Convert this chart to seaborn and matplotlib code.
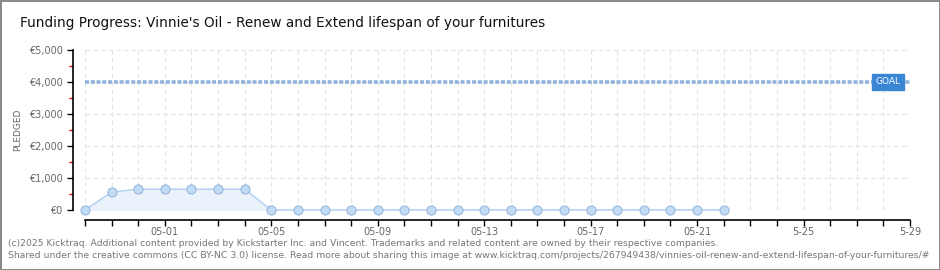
import matplotlib
matplotlib.use("Agg")
import matplotlib.pyplot as plt
import matplotlib.dates as mdates
import numpy as np
import pandas as pd
import seaborn as sns

# --- data ---
dates = pd.date_range("2017-04-28", "2017-05-22", freq="D")
pledged = [0, 560, 650, 650, 650, 650, 650] + [0] * 18
goal = 4000
tick_dates = ["2017-05-01", "2017-05-05", "2017-05-09", "2017-05-13",
              "2017-05-17", "2017-05-21", "2017-05-25", "2017-05-29"]
tick_labels = ["05-01", "05-05", "05-09", "05-13", "05-17", "05-21", "5-25", "5-29"]
y_ticks = [0, 1000, 2000, 3000, 4000, 5000]
y_labels = ["€0", "€1,000", "€2,000", "€3,000", "€4,000", "€5,000"]

df = pd.DataFrame({"date": dates, "pledged": pledged})

sns.set_style("white")
plt.rcParams["font.family"] = ["DejaVu Sans"]

fig = plt.figure(figsize=(9.4, 2.7), dpi=100, facecolor="white",
                 edgecolor="#8a8a8a", linewidth=2)
ax = fig.add_axes([85 / 940, (270 - 210) / 270, 825 / 940, 160 / 270])

x0 = pd.Timestamp("2017-04-28")
x1 = pd.Timestamp("2017-05-29")
ax.set_xlim(x0, x1)
ax.set_ylim(0, 5000)

# grid
ax.set_axisbelow(True)
for d in pd.date_range(x0, x1, freq="D"):
    ax.axvline(d, color="#e2e2e2", lw=0.8, ls=(0, (4, 3)), zorder=0)
for y in y_ticks:
    ax.axhline(y, color="#e2e2e2", lw=0.8, ls=(0, (4, 3)), zorder=0)

# goal line
ax.axhline(goal, color="#8fb3dc", lw=2.6, ls=(0, (1.1, 0.5)), zorder=2)
ax.text(pd.Timestamp("2017-05-27 17:00"), goal, "GOAL", color="white", fontsize=6.5,
        ha="left", va="center", zorder=4,
        bbox=dict(boxstyle="square,pad=0.35", fc="#3a86d4", ec="#3a86d4"))

# pledged area + line
ax.fill_between(df["date"], df["pledged"], 0, color="#eaf3fc", zorder=1)
sns.lineplot(data=df, x="date", y="pledged", ax=ax, color="#b9d5f2", lw=1.2,
             marker="o", markersize=6.5, markerfacecolor="#c3dcf6",
             markeredgecolor="#98b6da", markeredgewidth=0.8, zorder=3,
             clip_on=False)

# axes styling
for s in ["top", "right"]:
    ax.spines[s].set_visible(False)
ax.spines["left"].set_position(("outward", 9))
ax.spines["bottom"].set_position(("outward", 7))
ax.spines["left"].set_color("black")
ax.spines["bottom"].set_color("black")
ax.spines["left"].set_linewidth(1.2)
ax.spines["bottom"].set_linewidth(1.2)

ax.set_xticks(pd.to_datetime(tick_dates))
ax.set_xticklabels(tick_labels)
ax.xaxis.set_minor_locator(mdates.DayLocator())
ax.set_yticks(y_ticks)
ax.set_yticklabels(y_labels)
ax.set_yticks(np.arange(500, 5000, 1000), minor=True)

ax.tick_params(axis="x", which="both", bottom=True, direction="out", length=4, width=1,
               color="black", labelsize=7, labelcolor="#666666", pad=1)
ax.tick_params(axis="y", which="major", left=True, direction="out", length=4, width=1,
               color="black", labelsize=7, labelcolor="#666666", pad=3)
ax.tick_params(axis="y", which="minor", left=True, direction="out", length=3, width=1,
               color="red")

ax.set_xlabel("")
ax.set_ylabel("PLEDGED", fontsize=6.5, color="#666666", labelpad=5)

fig.text(20 / 940, 1 - 23 / 270, "Funding Progress: Vinnie's Oil - Renew and Extend lifespan of your furnitures",
         fontsize=9.8, color="#111111", va="center", ha="left")
fig.text(8 / 940, 1 - 243 / 270,
         "(c)2025 Kicktraq. Additional content provided by Kickstarter Inc. and Vincent. "
         "Trademarks and related content are owned by their respective companies.",
         fontsize=6.7, color="#777777", va="center", ha="left")
fig.text(8 / 940, 1 - 256 / 270,
         "Shared under the creative commons (CC BY-NC 3.0) license. Read more about sharing this image at "
         "www.kicktraq.com/projects/267949438/vinnies-oil-renew-and-extend-lifespan-of-your-furnitures/#",
         fontsize=6.7, color="#777777", va="center", ha="left")

fig.savefig("out.png", dpi=100, facecolor="white", edgecolor="#8a8a8a")
